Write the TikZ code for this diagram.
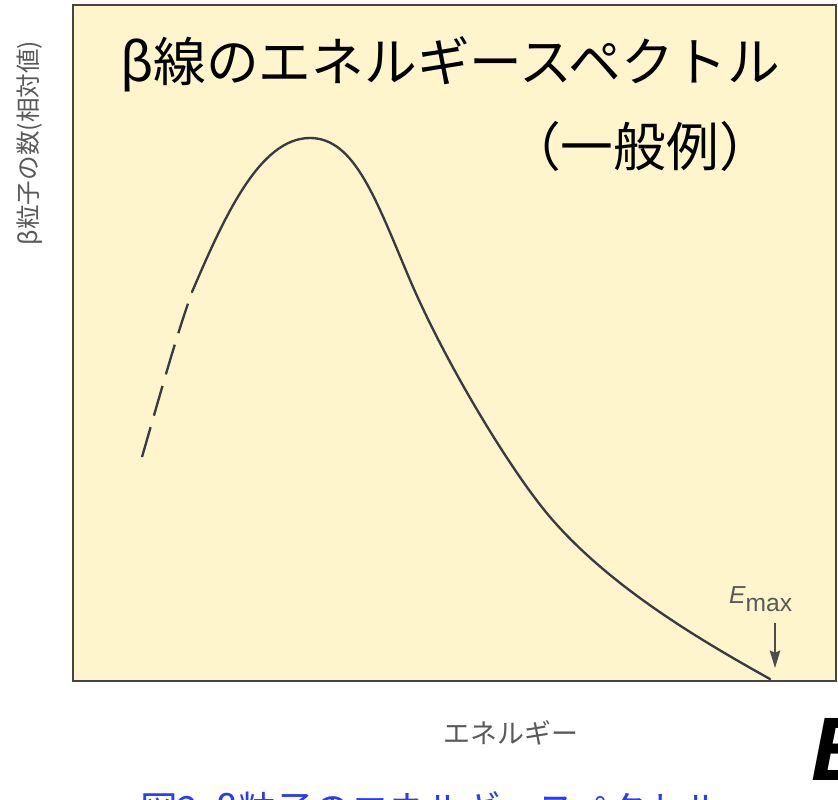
\documentclass[tikz,border=0pt]{standalone}
\usepackage{fontspec}
\setmainfont{Liberation Sans}
\newfontfamily\jpfont{Noto Sans CJK JP}
\usetikzlibrary{arrows.meta, positioning}
\definecolor{paper}{HTML}{FFF5CC}
\definecolor{frame}{HTML}{454548}
\definecolor{ink}{HTML}{3A3A46}
\definecolor{caption}{HTML}{2A3CF0}
\tikzset{
  title/.style={inner sep=0pt, font=\jpfont\fontsize{45}{48}\selectfont},
  graylabel/.style={inner sep=0pt, text=black!65},
  curve/.style={draw=ink, line width=2pt, line cap=round}
}

\begin{document}
\begin{tikzpicture}[x=0.3mm, y=-0.3mm]
  \useasboundingbox (0,0) rectangle (838,799);
  \draw[fill=paper, draw=frame, line width=2.4pt] (73,5) rectangle (836,681);

  \node[title] (head) at (450,64) {β線のエネルギースペクトル};
  \node[title] (sub) at (640,146) {（一般例）};

  \draw[curve] (192,292) .. controls (225,215) and (260,138) .. (310,138)
    .. controls (355,138) and (376,200) .. (410,280)
    .. controls (445,362) and (510,470) .. (550,517)
    .. controls (610,587) and (700,640) .. (770,679);
  \draw[curve, line cap=butt, dash pattern=on 26.5pt off 10.2pt]
    (142,457) .. controls (160,395) and (175,340) .. (192,292);

  \node[graylabel, rotate=90, font=\jpfont\fontsize{21}{22}\selectfont]
    (ylab) at (30,143) {β粒子の数(相対値)};
  \node[graylabel, font=\jpfont\fontsize{23}{24}\selectfont]
    (xlab) at (511,733) {エネルギー};

  \node[graylabel, anchor=base west, font=\fontsize{21}{22}\selectfont]
    (emax) at (729,603) {\itshape E\upshape\raisebox{-7pt}{max}};
  \coordinate (emaxtop) at (775,623);
  \coordinate (emaxend) at (775,668);
  \draw[black!70, line width=1.2pt, -{Stealth[length=15pt, width=9pt, inset=2pt]}]
    (emaxtop) -- (emaxend);

  \node[anchor=base west, inner sep=0pt, font=\fontsize{77}{80}\selectfont\bfseries\itshape]
    (bigE) at (811,780) {E};
  \node[anchor=north west, inner sep=0pt, text=caption,
    font=\jpfont\fontsize{32}{34}\selectfont]
    (cap) at (140,791) {図2\ \ β粒子のエネルギースペクトル};
\end{tikzpicture}
\end{document}
